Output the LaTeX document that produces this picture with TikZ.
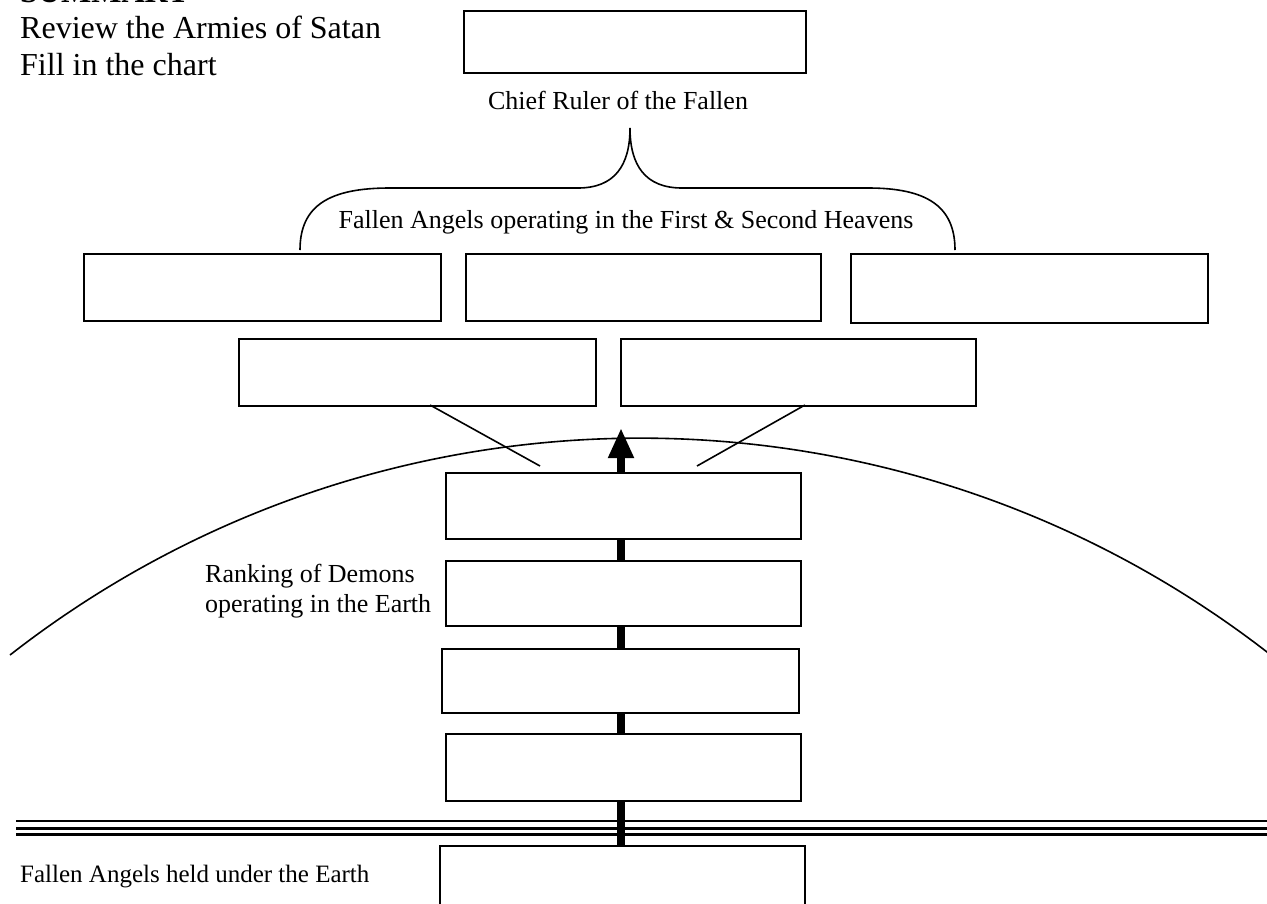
\documentclass[tikz,border=0pt]{standalone}
\usepackage{fontspec}
\setmainfont{Liberation Serif}
\usetikzlibrary{arrows.meta}
\begin{document}
\begin{tikzpicture}[x=1pt,y=-1pt,
  box/.style={draw, line width=2pt, fill=white, inner sep=0pt, anchor=north west},
  bigtext/.style={font=\fontsize{32}{32}\selectfont, inner sep=0pt},
  smalltext/.style={font=\fontsize{26}{26}\selectfont, inner sep=0pt},
  thinline/.style={line width=1.6pt},
  groundline/.style={line width=2.4pt},
  bigarrow/.style={line width=8pt, -{Triangle[width=24pt,length=30pt]}}
]
\path[clip, use as bounding box] (0,0) rectangle (1267,903);
\fill[white] (0,0) rectangle (1267,903);

% titles
\node[bigtext, anchor=base west, font=\fontsize{32}{32}\selectfont\bfseries] (summary) at (20,2.5) {SUMMARY};
\node[bigtext, anchor=base west] (review) at (20,38) {Review the Armies of Satan};
\node[bigtext, anchor=base west] (fill) at (20,75) {Fill in the chart};

% ground (triple line)
\coordinate (g1a) at (16,821); \coordinate (g1b) at (1267,821);
\coordinate (g2a) at (16,828); \coordinate (g2b) at (1267,828);
\coordinate (g3a) at (16,834.5); \coordinate (g3b) at (1267,834.5);
\draw[groundline] (g1a) -- (g1b);
\draw[groundline, line width=3pt] (g2a) -- (g2b);
\draw[groundline] (g3a) -- (g3b);

% earth arc
\coordinate (arcstart) at (10,655);
\draw[thinline] (arcstart) arc[start angle=-127.97, end angle=-52.03, radius=1024.7];

% central arrow
\coordinate (tip) at (621,428);
\node[box, minimum width=365pt, minimum height=80pt] (J) at (439,845) {};
\draw[bigarrow] (J.north -| tip) -- (tip);

% top box and labels
\node[box, minimum width=342pt, minimum height=62pt] (top) at (463,10) {};
\node[smalltext] (chief) at (618,100) {Chief Ruler of the Fallen};

% brace
\coordinate (brL) at (300,250);
\coordinate (brT) at (630,128);
\coordinate (brR) at (955,250);
\draw[thinline] (brL) .. controls (300,205) and (330,188) .. (390,188) -- (578,188)
  .. controls (615,188) and (630,165) .. (brT)
  .. controls (630,165) and (645,188) .. (682,188) -- (868,188)
  .. controls (925,188) and (955,205) .. (brR);
\node[smalltext] (heavens) at (626,222) {Fallen Angels operating in the First \& Second Heavens};

% row 1
\node[box, minimum width=357pt, minimum height=67pt] (A) at (83,253) {};
\node[box, minimum width=355pt, minimum height=67pt] (B) at (465,253) {};
\node[box, minimum width=357pt, minimum height=69pt] (C) at (850,253) {};
% row 2
\node[box, minimum width=357pt, minimum height=67pt] (D) at (238,338) {};
\node[box, minimum width=355pt, minimum height=67pt] (E) at (620,338) {};

% slanted lines
\coordinate (d1) at (430,405); \coordinate (d2) at (540,466);
\coordinate (e1) at (805,405); \coordinate (e2) at (697,466);
\draw[thinline] (d1) -- (d2);
\draw[thinline] (e1) -- (e2);

% demon stack
\node[box, minimum width=355pt, minimum height=66pt] (F) at (445,472) {};
\node[box, minimum width=355pt, minimum height=65pt] (G) at (445,560) {};
\node[box, minimum width=357pt, minimum height=64pt] (H) at (441,648) {};
\node[box, minimum width=355pt, minimum height=67pt] (I) at (445,733) {};

\node[smalltext, anchor=west, align=left] (ranking) at (205,591) {Ranking of Demons\\[4pt]operating in the Earth};
\node[smalltext, anchor=west, font=\fontsize{25}{25}\selectfont] (held) at (20,877) {Fallen Angels held under the Earth};
\end{tikzpicture}
\end{document}
